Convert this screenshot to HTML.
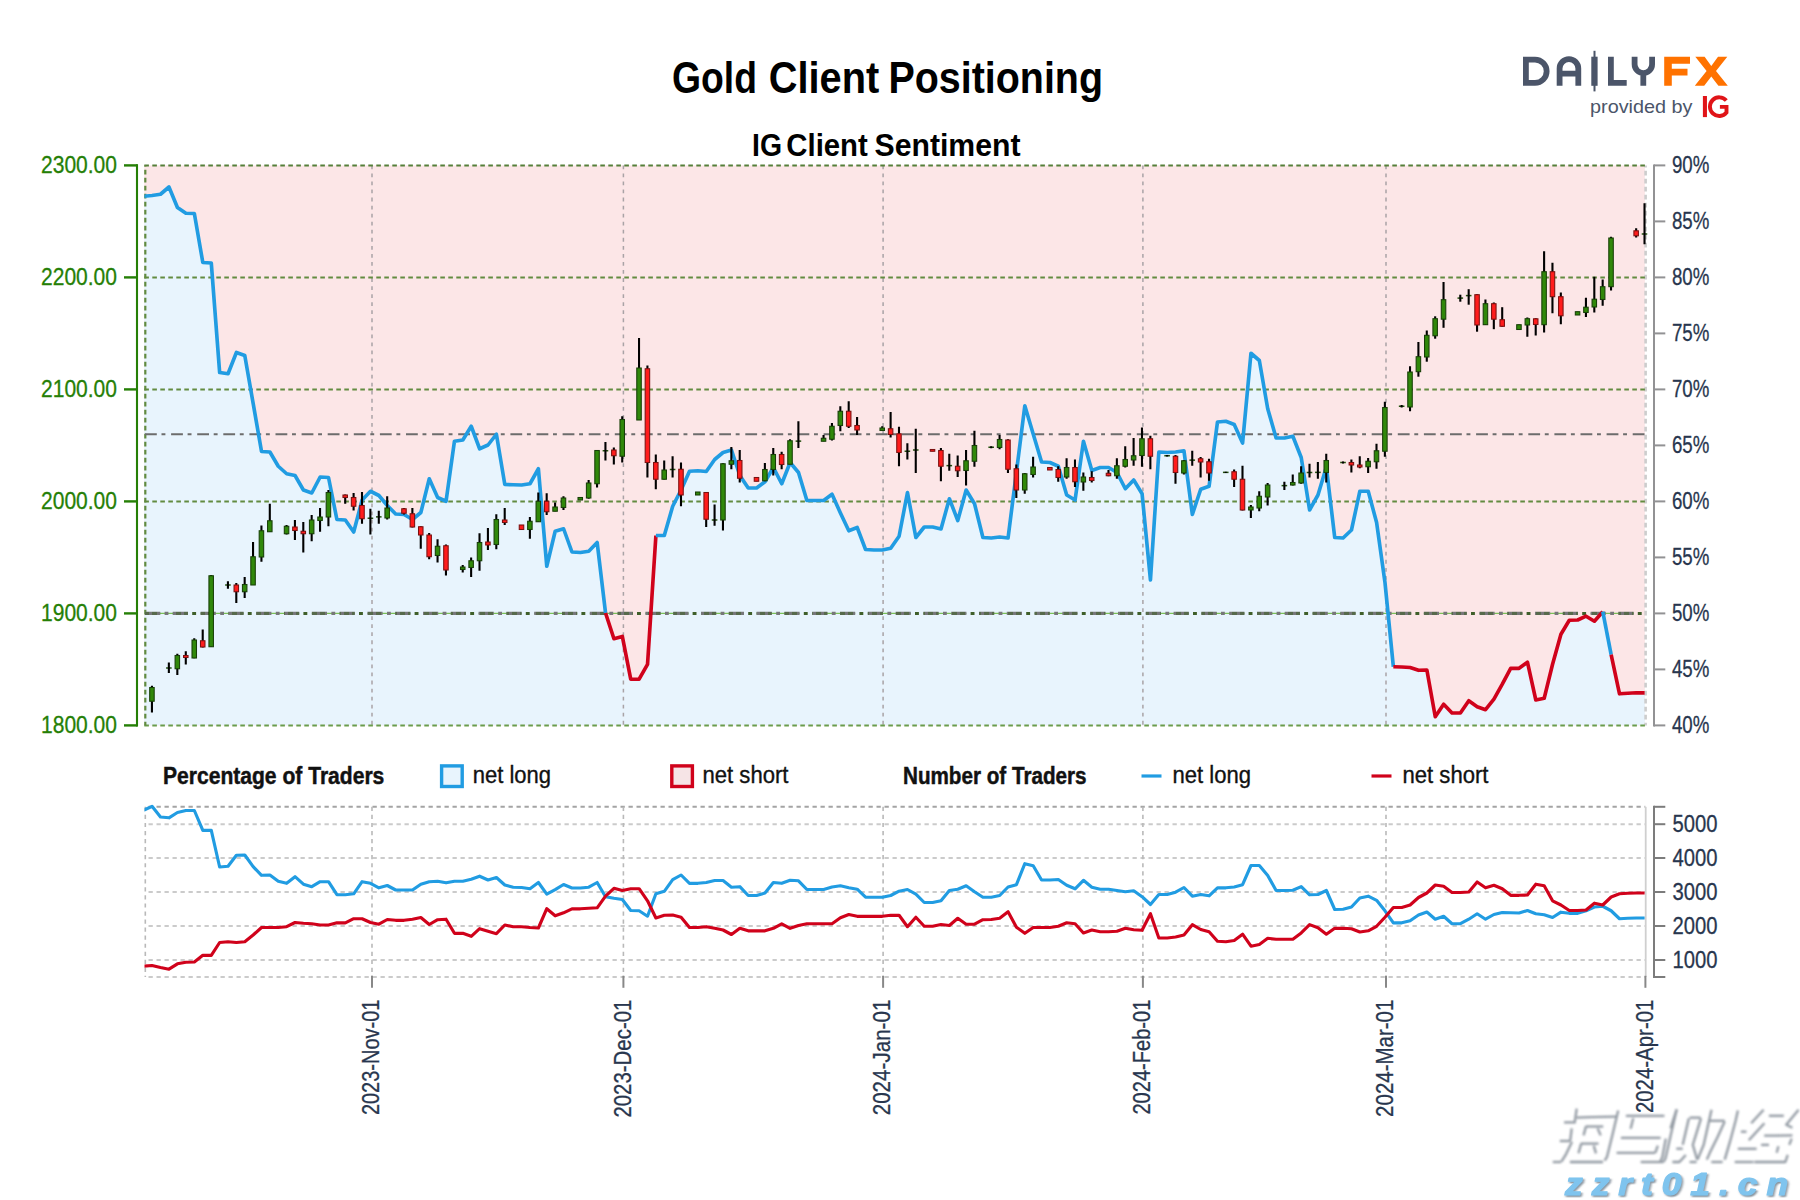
<!DOCTYPE html><html><head><meta charset="utf-8"><title>Gold Client Positioning</title>
<style>html,body{margin:0;padding:0;background:#fff}svg{display:block}text{font-family:"Liberation Sans",sans-serif}</style></head><body>
<svg width="1800" height="1200" viewBox="0 0 1800 1200">
<defs><clipPath id="cp"><rect x="144.5" y="164.9" width="1501.8" height="561"/></clipPath>
<clipPath id="cpc"><rect x="144.5" y="164.9" width="1503.3" height="561"/></clipPath>
<clipPath id="cpf"><rect x="144.2" y="165.4" width="1500.7" height="560"/></clipPath>
<clipPath id="cl"><rect x="144.5" y="803.8" width="1501.8" height="174.2"/></clipPath>
<filter id="sh" x="-10%" y="-10%" width="125%" height="130%"><feDropShadow dx="1.6" dy="1.8" stdDeviation="0.9" flood-color="#5a6470" flood-opacity="0.75"/></filter>
<filter id="sh2" x="-10%" y="-20%" width="125%" height="150%"><feDropShadow dx="1.3" dy="1.5" stdDeviation="0.7" flood-color="#6b7a88" flood-opacity="0.8"/></filter>
<filter id="bl" x="-5%" y="-5%" width="110%" height="110%"><feGaussianBlur stdDeviation="0.95"/></filter>
</defs>
<rect width="1800" height="1200" fill="#fff"/>
<text x="672" y="92.7" font-size="43.5" font-weight="bold" fill="#000" textLength="85" lengthAdjust="spacingAndGlyphs">Gold</text>
<text x="768.8" y="92.7" font-size="43.5" font-weight="bold" fill="#000" textLength="110.5" lengthAdjust="spacingAndGlyphs">Client</text>
<text x="888.5" y="92.7" font-size="43.5" font-weight="bold" fill="#000" textLength="214.5" lengthAdjust="spacingAndGlyphs">Positioning</text>
<text x="752" y="156" font-size="31.7" font-weight="bold" fill="#000" textLength="30" lengthAdjust="spacingAndGlyphs">IG</text>
<text x="786.3" y="156" font-size="31.7" font-weight="bold" fill="#000" textLength="81.5" lengthAdjust="spacingAndGlyphs">Client</text>
<text x="874.5" y="156" font-size="31.7" font-weight="bold" fill="#000" textLength="146" lengthAdjust="spacingAndGlyphs">Sentiment</text>
<rect x="144.2" y="165.4" width="1500.7" height="560" fill="#fce6e7"/>
<g clip-path="url(#cpf)">
<polygon points="144,725.4 143.6,196.25 152.03,195.5 160.5,194.25 168.96,187 177.43,207.5 185.89,213.25 194.35,213.5 202.82,262.5 211.28,263 219.65,372.5 228.03,373.75 236.4,352.5 244.78,355.5 253.15,403.4 261.53,451.5 269.9,452 278.27,466.25 286.65,473.75 295.02,475.5 303.4,490 311.77,493 320.15,477 328.52,477.5 336.91,519.5 345.31,520 353.7,532 362.1,500 370.49,491.25 378.89,495.5 387.28,505.5 395.68,514 404.07,514.5 412.47,519.5 420.86,512.5 429.26,478.75 437.65,497.5 446.05,501.25 454.44,441.25 462.83,440 471.23,426.25 479.62,448.75 488.02,445 496.41,434.25 504.81,484.5 513.2,484.75 521.6,485 529.99,483.75 538.39,468.75 546.78,566.25 555.18,531.25 563.57,528.75 571.97,552 580.36,552.5 588.75,551.25 597.15,542.5 605.54,613 613.94,638.7 622.33,636.4 630.73,679.2 639.12,679.2 647.52,664.4 655.91,535.5 664.3,535.5 672.7,506.25 681.09,490 689.49,471.25 697.88,470.75 706.28,471.5 714.67,459.5 723.06,452.5 731.45,450 739.83,475.5 748.21,488 756.59,488 764.98,481.75 773.36,467.5 781.74,483.75 790.12,462.5 798.5,472.5 806.89,500.5 815.27,500.5 823.65,500.5 832.03,494.25 840.42,513 848.8,530.75 857.18,527.5 865.56,549.5 873.95,550 882.33,550 890.71,548.25 899.09,536.25 907.47,492.5 915.86,537.5 924.24,527 932.62,527 941,529 949.38,498.75 957.77,520.5 966.15,490 974.53,503.75 982.91,537.5 991.3,538 999.68,537 1008.06,538 1016.44,472 1024.83,405.75 1033.2,434 1041.58,462 1049.95,462.5 1058.33,466.25 1066.7,495 1075.08,500 1083.45,441.25 1091.83,470.5 1100.21,467.5 1108.58,467.5 1116.96,472.5 1125.33,488.75 1133.71,480 1142.08,493.75 1150.46,580 1158.84,452 1167.21,452.5 1175.59,452 1183.96,450.75 1192.34,514.5 1200.71,489.25 1209.09,486.25 1217.47,422 1225.84,421.25 1234.22,424.5 1242.59,443 1250.97,353.25 1259.34,360.5 1267.72,408.75 1276.1,438 1284.47,438 1292.85,436.25 1301.22,457.5 1309.6,510 1317.97,495 1326.35,467 1334.73,537.5 1343.1,538 1351.48,530 1359.85,491.25 1368.23,491.25 1376.6,522.5 1384.98,582.5 1393.36,666.7 1401.74,667 1410.12,667.5 1418.5,670.3 1426.88,670 1435.26,716.7 1443.64,704.2 1452.02,713 1460.4,713 1468.78,700.8 1477.16,706.7 1485.54,709.7 1493.92,699.2 1502.3,684.2 1510.68,668.3 1519.06,668.3 1527.44,662.2 1535.82,700 1544.2,698.3 1552.56,664.2 1560.93,634.2 1569.3,620.3 1577.67,620 1586.04,616.2 1594.4,621.2 1602.77,611.7 1611.14,654.7 1619.51,693.8 1627.88,693.3 1636.25,692.8 1644.62,692.8 1646.3,725.4" fill="#e8f4fd"/>
</g>
<line x1="372" y1="165.4" x2="372" y2="725.4" stroke="#a9a3a6" stroke-width="1.5" stroke-dasharray="3.8 4.25"/>
<line x1="623.4" y1="165.4" x2="623.4" y2="725.4" stroke="#a9a3a6" stroke-width="1.5" stroke-dasharray="3.8 4.25"/>
<line x1="883.1" y1="165.4" x2="883.1" y2="725.4" stroke="#a9a3a6" stroke-width="1.5" stroke-dasharray="3.8 4.25"/>
<line x1="1142.9" y1="165.4" x2="1142.9" y2="725.4" stroke="#a9a3a6" stroke-width="1.5" stroke-dasharray="3.8 4.25"/>
<line x1="1386" y1="165.4" x2="1386" y2="725.4" stroke="#a9a3a6" stroke-width="1.5" stroke-dasharray="3.8 4.25"/>
<line x1="1645.6" y1="165.4" x2="1645.6" y2="725.4" stroke="#cdcdcd" stroke-width="2.6" stroke-dasharray="4.7 3.3" stroke-dashoffset="2.7"/>
<line x1="144.3" y1="165.4" x2="1645.3" y2="165.4" stroke="#557f39" stroke-width="2" stroke-dasharray="4.6 3.4"/>
<line x1="144.3" y1="277.4" x2="1645.3" y2="277.4" stroke="#628b40" stroke-width="2" stroke-dasharray="4.6 3.4"/>
<line x1="144.3" y1="389.4" x2="1645.3" y2="389.4" stroke="#628b40" stroke-width="2" stroke-dasharray="4.6 3.4"/>
<line x1="144.3" y1="501.4" x2="1645.3" y2="501.4" stroke="#628b40" stroke-width="2" stroke-dasharray="4.6 3.4"/>
<line x1="144.3" y1="725.4" x2="1645.3" y2="725.4" stroke="#6a9c4c" stroke-width="2" stroke-dasharray="4.6 3.4"/>
<line x1="145.3" y1="165.4" x2="145.3" y2="725.4" stroke="#628b40" stroke-width="2.2" stroke-dasharray="4.7 3.3" stroke-dashoffset="3.6"/>
<line x1="145" y1="434.2" x2="1645.3" y2="434.2" stroke="#6c6c6c" stroke-width="1.9" stroke-dasharray="11.8 4.7 3.9 5.7"/>
<mask id="m50" maskUnits="userSpaceOnUse" x="140" y="600" width="1520" height="30"><line x1="145" y1="613.4" x2="1645.3" y2="613.4" stroke="#fff" stroke-width="3.2" stroke-dasharray="15.2 12.6 15.2 12.6"/></mask>
<line x1="145" y1="613.4" x2="1645.3" y2="613.4" stroke="#7cc05a" stroke-width="1.3" stroke-dasharray="43 12.6"/>
<line x1="145" y1="613.4" x2="1645.3" y2="613.4" stroke="#3f5f2a" stroke-width="3" stroke-dasharray="3.9 51.7" stroke-dashoffset="-47.2"/>
<line x1="145" y1="613.4" x2="1645.3" y2="613.4" stroke="#77777a" stroke-width="3.1" stroke-dasharray="15.2 4.4 3.8 4.4 15.2 12.6"/>
<line x1="144" y1="613.4" x2="1645.3" y2="613.4" stroke="#43622f" stroke-width="3.1" stroke-dasharray="5 3" mask="url(#m50)" opacity="0.6"/>
<g clip-path="url(#cp)" fill="none" stroke-width="3.65" stroke-linejoin="round" stroke-linecap="butt">
<polyline points="143.6,196.25 152.03,195.5 160.5,194.25 168.96,187 177.43,207.5 185.89,213.25 194.35,213.5 202.82,262.5 211.28,263 219.65,372.5 228.03,373.75 236.4,352.5 244.78,355.5 253.15,403.4 261.53,451.5 269.9,452 278.27,466.25 286.65,473.75 295.02,475.5 303.4,490 311.77,493 320.15,477 328.52,477.5 336.91,519.5 345.31,520 353.7,532 362.1,500 370.49,491.25 378.89,495.5 387.28,505.5 395.68,514 404.07,514.5 412.47,519.5 420.86,512.5 429.26,478.75 437.65,497.5 446.05,501.25 454.44,441.25 462.83,440 471.23,426.25 479.62,448.75 488.02,445 496.41,434.25 504.81,484.5 513.2,484.75 521.6,485 529.99,483.75 538.39,468.75 546.78,566.25 555.18,531.25 563.57,528.75 571.97,552 580.36,552.5 588.75,551.25 597.15,542.5 605.54,613" stroke="#219ce2"/>
<polyline points="605.54,613 613.94,638.7 622.33,636.4 630.73,679.2 639.12,679.2 647.52,664.4 655.91,535.5" stroke="#d0021b"/>
<polyline points="655.91,535.5 664.3,535.5 672.7,506.25 681.09,490 689.49,471.25 697.88,470.75 706.28,471.5 714.67,459.5 723.06,452.5 731.45,450 739.83,475.5 748.21,488 756.59,488 764.98,481.75 773.36,467.5 781.74,483.75 790.12,462.5 798.5,472.5 806.89,500.5 815.27,500.5 823.65,500.5 832.03,494.25 840.42,513 848.8,530.75 857.18,527.5 865.56,549.5 873.95,550 882.33,550 890.71,548.25 899.09,536.25 907.47,492.5 915.86,537.5 924.24,527 932.62,527 941,529 949.38,498.75 957.77,520.5 966.15,490 974.53,503.75 982.91,537.5 991.3,538 999.68,537 1008.06,538 1016.44,472 1024.83,405.75 1033.2,434 1041.58,462 1049.95,462.5 1058.33,466.25 1066.7,495 1075.08,500 1083.45,441.25 1091.83,470.5 1100.21,467.5 1108.58,467.5 1116.96,472.5 1125.33,488.75 1133.71,480 1142.08,493.75 1150.46,580 1158.84,452 1167.21,452.5 1175.59,452 1183.96,450.75 1192.34,514.5 1200.71,489.25 1209.09,486.25 1217.47,422 1225.84,421.25 1234.22,424.5 1242.59,443 1250.97,353.25 1259.34,360.5 1267.72,408.75 1276.1,438 1284.47,438 1292.85,436.25 1301.22,457.5 1309.6,510 1317.97,495 1326.35,467 1334.73,537.5 1343.1,538 1351.48,530 1359.85,491.25 1368.23,491.25 1376.6,522.5 1384.98,582.5 1393.36,666.7" stroke="#219ce2"/>
<polyline points="1393.36,666.7 1401.74,667 1410.12,667.5 1418.5,670.3 1426.88,670 1435.26,716.7 1443.64,704.2 1452.02,713 1460.4,713 1468.78,700.8 1477.16,706.7 1485.54,709.7 1493.92,699.2 1502.3,684.2 1510.68,668.3 1519.06,668.3 1527.44,662.2 1535.82,700 1544.2,698.3 1552.56,664.2 1560.93,634.2 1569.3,620.3 1577.67,620 1586.04,616.2 1594.4,621.2 1602.77,611.7" stroke="#d0021b"/>
<polyline points="1602.77,611.7 1611.14,654.7" stroke="#219ce2"/>
<polyline points="1611.14,654.7 1619.51,693.8 1627.88,693.3 1636.25,692.8 1644.62,692.8" stroke="#d0021b"/>
</g>
<g clip-path="url(#cpc)">
<line x1="151.94" y1="685.75" x2="151.94" y2="712.5" stroke="#000" stroke-width="2.1"/>
<rect x="149.69" y="687.5" width="4.5" height="13.75" fill="#30880a" stroke="#173f07" stroke-width="1.05"/>
<rect x="166.06" y="667.25" width="5.6" height="1.5" fill="#23510f"/>
<line x1="168.86" y1="662.5" x2="168.86" y2="673" stroke="#000" stroke-width="2.1"/>
<line x1="177.33" y1="653.75" x2="177.33" y2="675" stroke="#000" stroke-width="2.1"/>
<rect x="175.08" y="655.5" width="4.5" height="13.25" fill="#30880a" stroke="#173f07" stroke-width="1.05"/>
<line x1="185.79" y1="651.25" x2="185.79" y2="664.5" stroke="#000" stroke-width="2.1"/>
<rect x="183.54" y="655.5" width="4.5" height="2" fill="#ff1c1c" stroke="#7a1010" stroke-width="1.05"/>
<line x1="194.25" y1="638.25" x2="194.25" y2="658.25" stroke="#000" stroke-width="2.1"/>
<rect x="192" y="640" width="4.5" height="18" fill="#30880a" stroke="#173f07" stroke-width="1.05"/>
<line x1="202.72" y1="629.5" x2="202.72" y2="647.5" stroke="#000" stroke-width="2.1"/>
<rect x="200.47" y="640.75" width="4.5" height="6.25" fill="#ff1c1c" stroke="#7a1010" stroke-width="1.05"/>
<line x1="211.18" y1="575" x2="211.18" y2="646.75" stroke="#000" stroke-width="2.1"/>
<rect x="208.93" y="575.75" width="4.5" height="71" fill="#30880a" stroke="#173f07" stroke-width="1.05"/>
<rect x="225.13" y="584.25" width="5.6" height="1.5" fill="#23510f"/>
<line x1="227.93" y1="581.25" x2="227.93" y2="588.75" stroke="#000" stroke-width="2.1"/>
<line x1="236.3" y1="583" x2="236.3" y2="603" stroke="#000" stroke-width="2.1"/>
<rect x="234.05" y="585" width="4.5" height="6.75" fill="#ff1c1c" stroke="#7a1010" stroke-width="1.05"/>
<line x1="244.68" y1="577" x2="244.68" y2="598" stroke="#000" stroke-width="2.1"/>
<rect x="242.43" y="584.5" width="4.5" height="7.25" fill="#30880a" stroke="#173f07" stroke-width="1.05"/>
<line x1="253.05" y1="542" x2="253.05" y2="585" stroke="#000" stroke-width="2.1"/>
<rect x="250.8" y="556.75" width="4.5" height="28.25" fill="#30880a" stroke="#173f07" stroke-width="1.05"/>
<line x1="261.43" y1="525.5" x2="261.43" y2="561.75" stroke="#000" stroke-width="2.1"/>
<rect x="259.18" y="530.75" width="4.5" height="26.25" fill="#30880a" stroke="#173f07" stroke-width="1.05"/>
<line x1="269.8" y1="503.75" x2="269.8" y2="531.75" stroke="#000" stroke-width="2.1"/>
<rect x="267.55" y="520.75" width="4.5" height="11" fill="#30880a" stroke="#173f07" stroke-width="1.05"/>
<line x1="286.55" y1="525" x2="286.55" y2="534.5" stroke="#000" stroke-width="2.1"/>
<rect x="284.3" y="526.25" width="4.5" height="7.5" fill="#30880a" stroke="#173f07" stroke-width="1.05"/>
<line x1="294.92" y1="520" x2="294.92" y2="540" stroke="#000" stroke-width="2.1"/>
<rect x="292.67" y="527" width="4.5" height="3.5" fill="#ff1c1c" stroke="#7a1010" stroke-width="1.05"/>
<line x1="303.3" y1="522" x2="303.3" y2="552.5" stroke="#000" stroke-width="2.1"/>
<rect x="301.05" y="531.25" width="4.5" height="2.5" fill="#ff1c1c" stroke="#7a1010" stroke-width="1.05"/>
<line x1="311.67" y1="515" x2="311.67" y2="541.25" stroke="#000" stroke-width="2.1"/>
<rect x="309.42" y="520" width="4.5" height="13.75" fill="#30880a" stroke="#173f07" stroke-width="1.05"/>
<line x1="320.05" y1="508" x2="320.05" y2="531.75" stroke="#000" stroke-width="2.1"/>
<rect x="317.8" y="517" width="4.5" height="3.5" fill="#30880a" stroke="#173f07" stroke-width="1.05"/>
<line x1="328.42" y1="490" x2="328.42" y2="526.25" stroke="#000" stroke-width="2.1"/>
<rect x="326.17" y="492.5" width="4.5" height="24.5" fill="#30880a" stroke="#173f07" stroke-width="1.05"/>
<line x1="345.21" y1="494.5" x2="345.21" y2="503.75" stroke="#000" stroke-width="2.1"/>
<rect x="342.96" y="495" width="4.5" height="2.5" fill="#ff1c1c" stroke="#7a1010" stroke-width="1.05"/>
<line x1="353.6" y1="493" x2="353.6" y2="510.5" stroke="#000" stroke-width="2.1"/>
<rect x="351.35" y="497.5" width="4.5" height="8.75" fill="#ff1c1c" stroke="#7a1010" stroke-width="1.05"/>
<line x1="362" y1="492" x2="362" y2="523.75" stroke="#000" stroke-width="2.1"/>
<rect x="359.75" y="505.5" width="4.5" height="13.25" fill="#ff1c1c" stroke="#7a1010" stroke-width="1.05"/>
<rect x="367.59" y="517.5" width="5.6" height="1.5" fill="#23510f"/>
<line x1="370.39" y1="508.75" x2="370.39" y2="534.5" stroke="#000" stroke-width="2.1"/>
<rect x="375.99" y="516.12" width="5.6" height="1.5" fill="#23510f"/>
<line x1="378.79" y1="510.75" x2="378.79" y2="523.75" stroke="#000" stroke-width="2.1"/>
<line x1="387.18" y1="496.25" x2="387.18" y2="519.5" stroke="#000" stroke-width="2.1"/>
<rect x="384.93" y="508" width="4.5" height="10" fill="#30880a" stroke="#173f07" stroke-width="1.05"/>
<line x1="403.97" y1="508" x2="403.97" y2="514.5" stroke="#000" stroke-width="2.1"/>
<rect x="401.72" y="508.75" width="4.5" height="4.5" fill="#ff1c1c" stroke="#7a1010" stroke-width="1.05"/>
<line x1="412.37" y1="508" x2="412.37" y2="527.5" stroke="#000" stroke-width="2.1"/>
<rect x="410.12" y="513.75" width="4.5" height="13.25" fill="#ff1c1c" stroke="#7a1010" stroke-width="1.05"/>
<line x1="420.76" y1="526.25" x2="420.76" y2="548.75" stroke="#000" stroke-width="2.1"/>
<rect x="418.51" y="526.75" width="4.5" height="8.25" fill="#ff1c1c" stroke="#7a1010" stroke-width="1.05"/>
<line x1="429.16" y1="533" x2="429.16" y2="559.25" stroke="#000" stroke-width="2.1"/>
<rect x="426.91" y="535" width="4.5" height="21.75" fill="#ff1c1c" stroke="#7a1010" stroke-width="1.05"/>
<line x1="437.55" y1="539.25" x2="437.55" y2="562.5" stroke="#000" stroke-width="2.1"/>
<rect x="435.3" y="546.25" width="4.5" height="9.25" fill="#30880a" stroke="#173f07" stroke-width="1.05"/>
<line x1="445.95" y1="544.5" x2="445.95" y2="575.5" stroke="#000" stroke-width="2.1"/>
<rect x="443.7" y="545.75" width="4.5" height="24.25" fill="#ff1c1c" stroke="#7a1010" stroke-width="1.05"/>
<line x1="462.73" y1="565" x2="462.73" y2="572.5" stroke="#000" stroke-width="2.1"/>
<rect x="460.48" y="567" width="4.5" height="2.5" fill="#30880a" stroke="#173f07" stroke-width="1.05"/>
<line x1="471.13" y1="557.5" x2="471.13" y2="577" stroke="#000" stroke-width="2.1"/>
<rect x="468.88" y="560.75" width="4.5" height="6.75" fill="#30880a" stroke="#173f07" stroke-width="1.05"/>
<line x1="479.52" y1="533.25" x2="479.52" y2="570.75" stroke="#000" stroke-width="2.1"/>
<rect x="477.27" y="542.5" width="4.5" height="18.25" fill="#30880a" stroke="#173f07" stroke-width="1.05"/>
<line x1="487.92" y1="528" x2="487.92" y2="550" stroke="#000" stroke-width="2.1"/>
<rect x="485.67" y="542" width="4.5" height="3" fill="#ff1c1c" stroke="#7a1010" stroke-width="1.05"/>
<line x1="496.31" y1="514.25" x2="496.31" y2="549.25" stroke="#000" stroke-width="2.1"/>
<rect x="494.06" y="519.5" width="4.5" height="25" fill="#30880a" stroke="#173f07" stroke-width="1.05"/>
<line x1="504.71" y1="508" x2="504.71" y2="525" stroke="#000" stroke-width="2.1"/>
<rect x="502.46" y="520" width="4.5" height="2.5" fill="#ff1c1c" stroke="#7a1010" stroke-width="1.05"/>
<line x1="521.5" y1="525" x2="521.5" y2="529.5" stroke="#000" stroke-width="2.1"/>
<rect x="519.25" y="525" width="4.5" height="4.5" fill="#ff1c1c" stroke="#7a1010" stroke-width="1.05"/>
<line x1="529.89" y1="517" x2="529.89" y2="538.75" stroke="#000" stroke-width="2.1"/>
<rect x="527.64" y="521.25" width="4.5" height="8.25" fill="#30880a" stroke="#173f07" stroke-width="1.05"/>
<line x1="538.29" y1="492.5" x2="538.29" y2="522" stroke="#000" stroke-width="2.1"/>
<rect x="536.04" y="501.25" width="4.5" height="20.5" fill="#30880a" stroke="#173f07" stroke-width="1.05"/>
<line x1="546.68" y1="493.25" x2="546.68" y2="515" stroke="#000" stroke-width="2.1"/>
<rect x="544.43" y="501.25" width="4.5" height="10.5" fill="#ff1c1c" stroke="#7a1010" stroke-width="1.05"/>
<line x1="555.08" y1="502.5" x2="555.08" y2="511.25" stroke="#000" stroke-width="2.1"/>
<rect x="552.83" y="507" width="4.5" height="4.25" fill="#30880a" stroke="#173f07" stroke-width="1.05"/>
<line x1="563.47" y1="496.25" x2="563.47" y2="510" stroke="#000" stroke-width="2.1"/>
<rect x="561.22" y="498" width="4.5" height="9.5" fill="#30880a" stroke="#173f07" stroke-width="1.05"/>
<line x1="580.26" y1="497.5" x2="580.26" y2="500" stroke="#000" stroke-width="2.1"/>
<rect x="578.01" y="497.5" width="4.5" height="2.5" fill="#30880a" stroke="#173f07" stroke-width="1.05"/>
<line x1="588.65" y1="480" x2="588.65" y2="498.75" stroke="#000" stroke-width="2.1"/>
<rect x="586.4" y="483" width="4.5" height="15" fill="#30880a" stroke="#173f07" stroke-width="1.05"/>
<line x1="597.05" y1="450" x2="597.05" y2="487.5" stroke="#000" stroke-width="2.1"/>
<rect x="594.8" y="450.5" width="4.5" height="33.25" fill="#30880a" stroke="#173f07" stroke-width="1.05"/>
<rect x="602.64" y="450" width="5.6" height="1.5" fill="#23510f"/>
<line x1="605.44" y1="442" x2="605.44" y2="460.5" stroke="#000" stroke-width="2.1"/>
<line x1="613.84" y1="447.5" x2="613.84" y2="464.5" stroke="#000" stroke-width="2.1"/>
<rect x="611.59" y="450" width="4.5" height="5.75" fill="#ff1c1c" stroke="#7a1010" stroke-width="1.05"/>
<line x1="622.23" y1="416.25" x2="622.23" y2="462.5" stroke="#000" stroke-width="2.1"/>
<rect x="619.98" y="419.5" width="4.5" height="36.75" fill="#30880a" stroke="#173f07" stroke-width="1.05"/>
<line x1="639.02" y1="338" x2="639.02" y2="420" stroke="#000" stroke-width="2.1"/>
<rect x="636.77" y="368" width="4.5" height="52" fill="#30880a" stroke="#173f07" stroke-width="1.05"/>
<line x1="647.42" y1="365.5" x2="647.42" y2="477.5" stroke="#000" stroke-width="2.1"/>
<rect x="645.17" y="368.75" width="4.5" height="93.75" fill="#ff1c1c" stroke="#7a1010" stroke-width="1.05"/>
<line x1="655.81" y1="454.5" x2="655.81" y2="489.25" stroke="#000" stroke-width="2.1"/>
<rect x="653.56" y="462.5" width="4.5" height="16.75" fill="#ff1c1c" stroke="#7a1010" stroke-width="1.05"/>
<line x1="664.2" y1="460.5" x2="664.2" y2="479.5" stroke="#000" stroke-width="2.1"/>
<rect x="661.95" y="470" width="4.5" height="9.25" fill="#30880a" stroke="#173f07" stroke-width="1.05"/>
<rect x="669.8" y="468.75" width="5.6" height="1.5" fill="#23510f"/>
<line x1="672.6" y1="456.25" x2="672.6" y2="477.5" stroke="#000" stroke-width="2.1"/>
<line x1="680.99" y1="462.5" x2="680.99" y2="506.25" stroke="#000" stroke-width="2.1"/>
<rect x="678.74" y="469.25" width="4.5" height="25.75" fill="#ff1c1c" stroke="#7a1010" stroke-width="1.05"/>
<line x1="697.78" y1="492" x2="697.78" y2="495" stroke="#000" stroke-width="2.1"/>
<rect x="695.53" y="492" width="4.5" height="3" fill="#30880a" stroke="#173f07" stroke-width="1.05"/>
<line x1="706.18" y1="492" x2="706.18" y2="527" stroke="#000" stroke-width="2.1"/>
<rect x="703.93" y="492.5" width="4.5" height="26.75" fill="#ff1c1c" stroke="#7a1010" stroke-width="1.05"/>
<rect x="711.77" y="519.25" width="5.6" height="1.5" fill="#23510f"/>
<line x1="714.57" y1="504.5" x2="714.57" y2="525.75" stroke="#000" stroke-width="2.1"/>
<line x1="722.96" y1="463.25" x2="722.96" y2="530.5" stroke="#000" stroke-width="2.1"/>
<rect x="720.71" y="463.75" width="4.5" height="56.25" fill="#30880a" stroke="#173f07" stroke-width="1.05"/>
<line x1="731.35" y1="447" x2="731.35" y2="469.25" stroke="#000" stroke-width="2.1"/>
<rect x="729.1" y="460.75" width="4.5" height="3.5" fill="#30880a" stroke="#173f07" stroke-width="1.05"/>
<line x1="739.73" y1="450" x2="739.73" y2="482.5" stroke="#000" stroke-width="2.1"/>
<rect x="737.48" y="460.5" width="4.5" height="17.75" fill="#ff1c1c" stroke="#7a1010" stroke-width="1.05"/>
<line x1="756.49" y1="477.5" x2="756.49" y2="481.25" stroke="#000" stroke-width="2.1"/>
<rect x="754.24" y="477.5" width="4.5" height="3.75" fill="#ff1c1c" stroke="#7a1010" stroke-width="1.05"/>
<line x1="764.88" y1="463" x2="764.88" y2="481.25" stroke="#000" stroke-width="2.1"/>
<rect x="762.63" y="469.5" width="4.5" height="11.25" fill="#30880a" stroke="#173f07" stroke-width="1.05"/>
<line x1="773.26" y1="448" x2="773.26" y2="475.5" stroke="#000" stroke-width="2.1"/>
<rect x="771.01" y="454.5" width="4.5" height="15" fill="#30880a" stroke="#173f07" stroke-width="1.05"/>
<line x1="781.64" y1="451.75" x2="781.64" y2="469.25" stroke="#000" stroke-width="2.1"/>
<rect x="779.39" y="454.5" width="4.5" height="10" fill="#ff1c1c" stroke="#7a1010" stroke-width="1.05"/>
<line x1="790.02" y1="439.25" x2="790.02" y2="464.25" stroke="#000" stroke-width="2.1"/>
<rect x="787.77" y="440.75" width="4.5" height="23.5" fill="#30880a" stroke="#173f07" stroke-width="1.05"/>
<rect x="795.61" y="440.38" width="5.6" height="1.5" fill="#23510f"/>
<line x1="798.4" y1="421.25" x2="798.4" y2="448" stroke="#000" stroke-width="2.1"/>
<line x1="823.55" y1="435" x2="823.55" y2="441.25" stroke="#000" stroke-width="2.1"/>
<rect x="821.3" y="438.25" width="4.5" height="3" fill="#30880a" stroke="#173f07" stroke-width="1.05"/>
<line x1="831.93" y1="423" x2="831.93" y2="440.5" stroke="#000" stroke-width="2.1"/>
<rect x="829.68" y="426.25" width="4.5" height="13" fill="#30880a" stroke="#173f07" stroke-width="1.05"/>
<line x1="840.32" y1="406.25" x2="840.32" y2="431.25" stroke="#000" stroke-width="2.1"/>
<rect x="838.07" y="411.25" width="4.5" height="14.25" fill="#30880a" stroke="#173f07" stroke-width="1.05"/>
<line x1="848.7" y1="401.25" x2="848.7" y2="428" stroke="#000" stroke-width="2.1"/>
<rect x="846.45" y="411.25" width="4.5" height="15" fill="#ff1c1c" stroke="#7a1010" stroke-width="1.05"/>
<line x1="857.08" y1="417" x2="857.08" y2="435" stroke="#000" stroke-width="2.1"/>
<rect x="854.83" y="425.5" width="4.5" height="4.5" fill="#ff1c1c" stroke="#7a1010" stroke-width="1.05"/>
<line x1="882.23" y1="426.25" x2="882.23" y2="430.5" stroke="#000" stroke-width="2.1"/>
<rect x="879.98" y="428" width="4.5" height="2.5" fill="#30880a" stroke="#173f07" stroke-width="1.05"/>
<line x1="890.61" y1="412" x2="890.61" y2="437.5" stroke="#000" stroke-width="2.1"/>
<rect x="888.36" y="428.75" width="4.5" height="5.75" fill="#ff1c1c" stroke="#7a1010" stroke-width="1.05"/>
<line x1="898.99" y1="426.75" x2="898.99" y2="466.25" stroke="#000" stroke-width="2.1"/>
<rect x="896.74" y="433.75" width="4.5" height="18.75" fill="#ff1c1c" stroke="#7a1010" stroke-width="1.05"/>
<rect x="904.57" y="450.5" width="5.6" height="1.5" fill="#23510f"/>
<line x1="907.37" y1="443.25" x2="907.37" y2="459.5" stroke="#000" stroke-width="2.1"/>
<rect x="912.96" y="449.25" width="5.6" height="1.5" fill="#23510f"/>
<line x1="915.76" y1="428.75" x2="915.76" y2="473" stroke="#000" stroke-width="2.1"/>
<line x1="932.52" y1="449.5" x2="932.52" y2="451.25" stroke="#000" stroke-width="2.1"/>
<rect x="930.27" y="449.5" width="4.5" height="1.75" fill="#ff1c1c" stroke="#7a1010" stroke-width="1.05"/>
<line x1="940.9" y1="448" x2="940.9" y2="481.25" stroke="#000" stroke-width="2.1"/>
<rect x="938.65" y="450.5" width="4.5" height="15.75" fill="#ff1c1c" stroke="#7a1010" stroke-width="1.05"/>
<rect x="946.49" y="464.88" width="5.6" height="1.5" fill="#23510f"/>
<line x1="949.28" y1="453.75" x2="949.28" y2="470.75" stroke="#000" stroke-width="2.1"/>
<line x1="957.67" y1="455.5" x2="957.67" y2="477" stroke="#000" stroke-width="2.1"/>
<rect x="955.42" y="466.25" width="4.5" height="4.5" fill="#ff1c1c" stroke="#7a1010" stroke-width="1.05"/>
<line x1="966.05" y1="450" x2="966.05" y2="485.5" stroke="#000" stroke-width="2.1"/>
<rect x="963.8" y="460.75" width="4.5" height="9.75" fill="#30880a" stroke="#173f07" stroke-width="1.05"/>
<line x1="974.43" y1="430.75" x2="974.43" y2="466.75" stroke="#000" stroke-width="2.1"/>
<rect x="972.18" y="445.5" width="4.5" height="15.75" fill="#30880a" stroke="#173f07" stroke-width="1.05"/>
<rect x="988.4" y="446.5" width="5.6" height="1.5" fill="#23510f"/>
<line x1="991.2" y1="446.25" x2="991.2" y2="448.25" stroke="#000" stroke-width="2.1"/>
<line x1="999.58" y1="435" x2="999.58" y2="449.25" stroke="#000" stroke-width="2.1"/>
<rect x="997.33" y="439.5" width="4.5" height="8" fill="#30880a" stroke="#173f07" stroke-width="1.05"/>
<line x1="1007.96" y1="439.25" x2="1007.96" y2="473" stroke="#000" stroke-width="2.1"/>
<rect x="1005.71" y="440" width="4.5" height="29.25" fill="#ff1c1c" stroke="#7a1010" stroke-width="1.05"/>
<line x1="1016.34" y1="464.5" x2="1016.34" y2="498" stroke="#000" stroke-width="2.1"/>
<rect x="1014.09" y="468.75" width="4.5" height="21.25" fill="#ff1c1c" stroke="#7a1010" stroke-width="1.05"/>
<line x1="1024.73" y1="473" x2="1024.73" y2="493.75" stroke="#000" stroke-width="2.1"/>
<rect x="1022.48" y="473.75" width="4.5" height="16.25" fill="#30880a" stroke="#173f07" stroke-width="1.05"/>
<line x1="1033.1" y1="456.75" x2="1033.1" y2="477.5" stroke="#000" stroke-width="2.1"/>
<rect x="1030.85" y="467" width="4.5" height="7.5" fill="#30880a" stroke="#173f07" stroke-width="1.05"/>
<line x1="1049.85" y1="467.5" x2="1049.85" y2="470" stroke="#000" stroke-width="2.1"/>
<rect x="1047.6" y="467.5" width="4.5" height="2.5" fill="#ff1c1c" stroke="#7a1010" stroke-width="1.05"/>
<line x1="1058.23" y1="466.25" x2="1058.23" y2="481.75" stroke="#000" stroke-width="2.1"/>
<rect x="1055.98" y="469.5" width="4.5" height="8" fill="#ff1c1c" stroke="#7a1010" stroke-width="1.05"/>
<line x1="1066.6" y1="458.25" x2="1066.6" y2="478.75" stroke="#000" stroke-width="2.1"/>
<rect x="1064.35" y="467.5" width="4.5" height="9.5" fill="#30880a" stroke="#173f07" stroke-width="1.05"/>
<line x1="1074.98" y1="459.5" x2="1074.98" y2="487" stroke="#000" stroke-width="2.1"/>
<rect x="1072.73" y="467.5" width="4.5" height="14.25" fill="#ff1c1c" stroke="#7a1010" stroke-width="1.05"/>
<line x1="1083.35" y1="472.5" x2="1083.35" y2="490.75" stroke="#000" stroke-width="2.1"/>
<rect x="1081.1" y="477" width="4.5" height="5" fill="#30880a" stroke="#173f07" stroke-width="1.05"/>
<line x1="1091.73" y1="471.25" x2="1091.73" y2="482.5" stroke="#000" stroke-width="2.1"/>
<rect x="1089.48" y="477.5" width="4.5" height="3" fill="#ff1c1c" stroke="#7a1010" stroke-width="1.05"/>
<line x1="1108.48" y1="470" x2="1108.48" y2="476.25" stroke="#000" stroke-width="2.1"/>
<rect x="1106.23" y="473.25" width="4.5" height="2.5" fill="#ff1c1c" stroke="#7a1010" stroke-width="1.05"/>
<line x1="1116.86" y1="458.25" x2="1116.86" y2="478.75" stroke="#000" stroke-width="2.1"/>
<rect x="1114.61" y="465.75" width="4.5" height="10" fill="#30880a" stroke="#173f07" stroke-width="1.05"/>
<line x1="1125.23" y1="446.25" x2="1125.23" y2="467.5" stroke="#000" stroke-width="2.1"/>
<rect x="1122.98" y="459.5" width="4.5" height="6.75" fill="#30880a" stroke="#173f07" stroke-width="1.05"/>
<line x1="1133.61" y1="438" x2="1133.61" y2="465.75" stroke="#000" stroke-width="2.1"/>
<rect x="1131.36" y="455.75" width="4.5" height="4.25" fill="#30880a" stroke="#173f07" stroke-width="1.05"/>
<line x1="1141.98" y1="427.5" x2="1141.98" y2="466.75" stroke="#000" stroke-width="2.1"/>
<rect x="1139.73" y="438.75" width="4.5" height="16.75" fill="#30880a" stroke="#173f07" stroke-width="1.05"/>
<line x1="1150.36" y1="435.75" x2="1150.36" y2="469.25" stroke="#000" stroke-width="2.1"/>
<rect x="1148.11" y="438.75" width="4.5" height="17.5" fill="#ff1c1c" stroke="#7a1010" stroke-width="1.05"/>
<rect x="1164.31" y="455" width="5.6" height="1.5" fill="#23510f"/>
<line x1="1167.11" y1="455" x2="1167.11" y2="456.5" stroke="#000" stroke-width="2.1"/>
<line x1="1175.49" y1="455" x2="1175.49" y2="483.75" stroke="#000" stroke-width="2.1"/>
<rect x="1173.24" y="456.25" width="4.5" height="16.25" fill="#ff1c1c" stroke="#7a1010" stroke-width="1.05"/>
<line x1="1183.86" y1="460" x2="1183.86" y2="474.5" stroke="#000" stroke-width="2.1"/>
<rect x="1181.61" y="460.75" width="4.5" height="12.25" fill="#30880a" stroke="#173f07" stroke-width="1.05"/>
<rect x="1189.44" y="459.38" width="5.6" height="1.5" fill="#23510f"/>
<line x1="1192.24" y1="450.75" x2="1192.24" y2="465.75" stroke="#000" stroke-width="2.1"/>
<line x1="1200.61" y1="457" x2="1200.61" y2="477.5" stroke="#000" stroke-width="2.1"/>
<rect x="1198.36" y="458.75" width="4.5" height="3.25" fill="#ff1c1c" stroke="#7a1010" stroke-width="1.05"/>
<line x1="1208.99" y1="458.75" x2="1208.99" y2="480.75" stroke="#000" stroke-width="2.1"/>
<rect x="1206.74" y="461.75" width="4.5" height="11.25" fill="#ff1c1c" stroke="#7a1010" stroke-width="1.05"/>
<rect x="1222.94" y="471.62" width="5.6" height="1.5" fill="#23510f"/>
<line x1="1225.74" y1="471.75" x2="1225.74" y2="473" stroke="#000" stroke-width="2.1"/>
<line x1="1234.12" y1="469.5" x2="1234.12" y2="487" stroke="#000" stroke-width="2.1"/>
<rect x="1231.87" y="471.75" width="4.5" height="7.5" fill="#ff1c1c" stroke="#7a1010" stroke-width="1.05"/>
<line x1="1242.49" y1="465.75" x2="1242.49" y2="510.5" stroke="#000" stroke-width="2.1"/>
<rect x="1240.24" y="479.25" width="4.5" height="30.75" fill="#ff1c1c" stroke="#7a1010" stroke-width="1.05"/>
<line x1="1250.87" y1="505" x2="1250.87" y2="518" stroke="#000" stroke-width="2.1"/>
<rect x="1248.62" y="507" width="4.5" height="3" fill="#30880a" stroke="#173f07" stroke-width="1.05"/>
<line x1="1259.24" y1="491.25" x2="1259.24" y2="511.25" stroke="#000" stroke-width="2.1"/>
<rect x="1256.99" y="496.25" width="4.5" height="11.75" fill="#30880a" stroke="#173f07" stroke-width="1.05"/>
<line x1="1267.62" y1="483" x2="1267.62" y2="505.5" stroke="#000" stroke-width="2.1"/>
<rect x="1265.37" y="485" width="4.5" height="12" fill="#30880a" stroke="#173f07" stroke-width="1.05"/>
<rect x="1281.57" y="484.88" width="5.6" height="1.5" fill="#23510f"/>
<line x1="1284.37" y1="481.75" x2="1284.37" y2="490" stroke="#000" stroke-width="2.1"/>
<line x1="1292.75" y1="474.5" x2="1292.75" y2="485.5" stroke="#000" stroke-width="2.1"/>
<rect x="1290.5" y="482.5" width="4.5" height="2.5" fill="#30880a" stroke="#173f07" stroke-width="1.05"/>
<line x1="1301.12" y1="466.25" x2="1301.12" y2="483.75" stroke="#000" stroke-width="2.1"/>
<rect x="1298.87" y="473" width="4.5" height="10" fill="#30880a" stroke="#173f07" stroke-width="1.05"/>
<rect x="1306.7" y="471.75" width="5.6" height="1.5" fill="#23510f"/>
<line x1="1309.5" y1="463.75" x2="1309.5" y2="477.5" stroke="#000" stroke-width="2.1"/>
<rect x="1315.07" y="471.62" width="5.6" height="1.5" fill="#23510f"/>
<line x1="1317.87" y1="462" x2="1317.87" y2="478.75" stroke="#000" stroke-width="2.1"/>
<line x1="1326.25" y1="453.75" x2="1326.25" y2="482.5" stroke="#000" stroke-width="2.1"/>
<rect x="1324" y="460.5" width="4.5" height="12" fill="#30880a" stroke="#173f07" stroke-width="1.05"/>
<rect x="1340.2" y="461.75" width="5.6" height="1.5" fill="#23510f"/>
<line x1="1343" y1="461.5" x2="1343" y2="463.5" stroke="#000" stroke-width="2.1"/>
<line x1="1351.38" y1="459.5" x2="1351.38" y2="472.5" stroke="#000" stroke-width="2.1"/>
<rect x="1349.13" y="462.5" width="4.5" height="2.5" fill="#ff1c1c" stroke="#7a1010" stroke-width="1.05"/>
<line x1="1359.75" y1="456.25" x2="1359.75" y2="468.25" stroke="#000" stroke-width="2.1"/>
<rect x="1357.5" y="465" width="4.5" height="2" fill="#ff1c1c" stroke="#7a1010" stroke-width="1.05"/>
<line x1="1368.13" y1="458" x2="1368.13" y2="473" stroke="#000" stroke-width="2.1"/>
<rect x="1365.88" y="461.25" width="4.5" height="5.5" fill="#30880a" stroke="#173f07" stroke-width="1.05"/>
<line x1="1376.5" y1="443.75" x2="1376.5" y2="468.75" stroke="#000" stroke-width="2.1"/>
<rect x="1374.25" y="450.75" width="4.5" height="11" fill="#30880a" stroke="#173f07" stroke-width="1.05"/>
<line x1="1384.88" y1="401.75" x2="1384.88" y2="456.75" stroke="#000" stroke-width="2.1"/>
<rect x="1382.63" y="407.5" width="4.5" height="43.75" fill="#30880a" stroke="#173f07" stroke-width="1.05"/>
<rect x="1398.84" y="405.5" width="5.6" height="1.5" fill="#23510f"/>
<line x1="1401.64" y1="405" x2="1401.64" y2="407.5" stroke="#000" stroke-width="2.1"/>
<line x1="1410.02" y1="366.25" x2="1410.02" y2="411.25" stroke="#000" stroke-width="2.1"/>
<rect x="1407.77" y="372" width="4.5" height="35" fill="#30880a" stroke="#173f07" stroke-width="1.05"/>
<line x1="1418.4" y1="342" x2="1418.4" y2="376.7" stroke="#000" stroke-width="2.1"/>
<rect x="1416.15" y="356.7" width="4.5" height="15" fill="#30880a" stroke="#173f07" stroke-width="1.05"/>
<line x1="1426.78" y1="330.5" x2="1426.78" y2="361.7" stroke="#000" stroke-width="2.1"/>
<rect x="1424.53" y="335.3" width="4.5" height="21.7" fill="#30880a" stroke="#173f07" stroke-width="1.05"/>
<line x1="1435.16" y1="316.3" x2="1435.16" y2="338.7" stroke="#000" stroke-width="2.1"/>
<rect x="1432.91" y="318.7" width="4.5" height="17.1" fill="#30880a" stroke="#173f07" stroke-width="1.05"/>
<line x1="1443.54" y1="282" x2="1443.54" y2="327.8" stroke="#000" stroke-width="2.1"/>
<rect x="1441.29" y="299.7" width="4.5" height="19.5" fill="#30880a" stroke="#173f07" stroke-width="1.05"/>
<rect x="1457.5" y="297.35" width="5.6" height="1.5" fill="#23510f"/>
<line x1="1460.3" y1="294.7" x2="1460.3" y2="301.7" stroke="#000" stroke-width="2.1"/>
<rect x="1465.88" y="294.85" width="5.6" height="1.5" fill="#23510f"/>
<line x1="1468.68" y1="289.2" x2="1468.68" y2="304.7" stroke="#000" stroke-width="2.1"/>
<line x1="1477.06" y1="294.2" x2="1477.06" y2="331.7" stroke="#000" stroke-width="2.1"/>
<rect x="1474.81" y="294.7" width="4.5" height="30.3" fill="#ff1c1c" stroke="#7a1010" stroke-width="1.05"/>
<line x1="1485.44" y1="299.5" x2="1485.44" y2="325" stroke="#000" stroke-width="2.1"/>
<rect x="1483.19" y="303.7" width="4.5" height="21" fill="#30880a" stroke="#173f07" stroke-width="1.05"/>
<line x1="1493.82" y1="302.5" x2="1493.82" y2="329.2" stroke="#000" stroke-width="2.1"/>
<rect x="1491.57" y="303.7" width="4.5" height="15.5" fill="#ff1c1c" stroke="#7a1010" stroke-width="1.05"/>
<line x1="1502.2" y1="307.2" x2="1502.2" y2="326.7" stroke="#000" stroke-width="2.1"/>
<rect x="1499.95" y="319.7" width="4.5" height="6.6" fill="#ff1c1c" stroke="#7a1010" stroke-width="1.05"/>
<line x1="1518.96" y1="324.7" x2="1518.96" y2="329.5" stroke="#000" stroke-width="2.1"/>
<rect x="1516.71" y="324.7" width="4.5" height="4.8" fill="#30880a" stroke="#173f07" stroke-width="1.05"/>
<line x1="1527.34" y1="317.5" x2="1527.34" y2="336.7" stroke="#000" stroke-width="2.1"/>
<rect x="1525.09" y="318.7" width="4.5" height="6.3" fill="#30880a" stroke="#173f07" stroke-width="1.05"/>
<line x1="1535.72" y1="318.3" x2="1535.72" y2="335.5" stroke="#000" stroke-width="2.1"/>
<rect x="1533.47" y="318.8" width="4.5" height="5.7" fill="#ff1c1c" stroke="#7a1010" stroke-width="1.05"/>
<line x1="1544.1" y1="251.2" x2="1544.1" y2="332.5" stroke="#000" stroke-width="2.1"/>
<rect x="1541.85" y="271.7" width="4.5" height="53" fill="#30880a" stroke="#173f07" stroke-width="1.05"/>
<line x1="1552.46" y1="262.8" x2="1552.46" y2="313.3" stroke="#000" stroke-width="2.1"/>
<rect x="1550.21" y="271.7" width="4.5" height="25" fill="#ff1c1c" stroke="#7a1010" stroke-width="1.05"/>
<line x1="1560.83" y1="292.5" x2="1560.83" y2="324.2" stroke="#000" stroke-width="2.1"/>
<rect x="1558.58" y="296.7" width="4.5" height="19.1" fill="#ff1c1c" stroke="#7a1010" stroke-width="1.05"/>
<line x1="1577.57" y1="311.7" x2="1577.57" y2="315" stroke="#000" stroke-width="2.1"/>
<rect x="1575.32" y="311.7" width="4.5" height="3.3" fill="#30880a" stroke="#173f07" stroke-width="1.05"/>
<line x1="1585.94" y1="297.8" x2="1585.94" y2="317" stroke="#000" stroke-width="2.1"/>
<rect x="1583.69" y="307.2" width="4.5" height="5.3" fill="#30880a" stroke="#173f07" stroke-width="1.05"/>
<line x1="1594.31" y1="276.7" x2="1594.31" y2="312.5" stroke="#000" stroke-width="2.1"/>
<rect x="1592.06" y="299.2" width="4.5" height="7.8" fill="#30880a" stroke="#173f07" stroke-width="1.05"/>
<line x1="1602.67" y1="279.5" x2="1602.67" y2="305.8" stroke="#000" stroke-width="2.1"/>
<rect x="1600.42" y="286.7" width="4.5" height="12.8" fill="#30880a" stroke="#173f07" stroke-width="1.05"/>
<line x1="1611.04" y1="236.7" x2="1611.04" y2="290.5" stroke="#000" stroke-width="2.1"/>
<rect x="1608.79" y="238" width="4.5" height="48.7" fill="#30880a" stroke="#173f07" stroke-width="1.05"/>
<line x1="1636.15" y1="228.3" x2="1636.15" y2="237.5" stroke="#000" stroke-width="2.1"/>
<rect x="1633.9" y="230.8" width="4.5" height="5" fill="#ff1c1c" stroke="#7a1010" stroke-width="1.05"/>
<rect x="1641.72" y="233.25" width="5.6" height="1.5" fill="#23510f"/>
<line x1="1644.52" y1="203.3" x2="1644.52" y2="244.2" stroke="#000" stroke-width="2.1"/>
</g>
<line x1="137" y1="164.2" x2="137" y2="726.6" stroke="#257f06" stroke-width="2.1"/>
<line x1="124" y1="165.4" x2="137.5" y2="165.4" stroke="#257f06" stroke-width="2.4"/>
<text x="41" y="173" font-size="24" fill="#257f06" stroke="#257f06" stroke-width="0.3" textLength="76" lengthAdjust="spacingAndGlyphs">2300.00</text>
<line x1="124" y1="277.4" x2="137.5" y2="277.4" stroke="#257f06" stroke-width="2.4"/>
<text x="41" y="285" font-size="24" fill="#257f06" stroke="#257f06" stroke-width="0.3" textLength="76" lengthAdjust="spacingAndGlyphs">2200.00</text>
<line x1="124" y1="389.4" x2="137.5" y2="389.4" stroke="#257f06" stroke-width="2.4"/>
<text x="41" y="397" font-size="24" fill="#257f06" stroke="#257f06" stroke-width="0.3" textLength="76" lengthAdjust="spacingAndGlyphs">2100.00</text>
<line x1="124" y1="501.4" x2="137.5" y2="501.4" stroke="#257f06" stroke-width="2.4"/>
<text x="41" y="509" font-size="24" fill="#257f06" stroke="#257f06" stroke-width="0.3" textLength="76" lengthAdjust="spacingAndGlyphs">2000.00</text>
<line x1="124" y1="613.4" x2="137.5" y2="613.4" stroke="#257f06" stroke-width="2.4"/>
<text x="41" y="621" font-size="24" fill="#257f06" stroke="#257f06" stroke-width="0.3" textLength="76" lengthAdjust="spacingAndGlyphs">1900.00</text>
<line x1="124" y1="725.4" x2="137.5" y2="725.4" stroke="#257f06" stroke-width="2.4"/>
<text x="41" y="733" font-size="24" fill="#257f06" stroke="#257f06" stroke-width="0.3" textLength="76" lengthAdjust="spacingAndGlyphs">1800.00</text>
<line x1="1654" y1="164.4" x2="1654" y2="726.4" stroke="#929294" stroke-width="2"/>
<line x1="1654" y1="165.4" x2="1665.3" y2="165.4" stroke="#929294" stroke-width="2"/>
<text x="1671.9" y="173.3" font-size="24" fill="#28364e" stroke="#28364e" stroke-width="0.3" textLength="37.4" lengthAdjust="spacingAndGlyphs">90%</text>
<line x1="1654" y1="221.4" x2="1665.3" y2="221.4" stroke="#929294" stroke-width="2"/>
<text x="1671.9" y="229.3" font-size="24" fill="#28364e" stroke="#28364e" stroke-width="0.3" textLength="37.4" lengthAdjust="spacingAndGlyphs">85%</text>
<line x1="1654" y1="277.4" x2="1665.3" y2="277.4" stroke="#929294" stroke-width="2"/>
<text x="1671.9" y="285.3" font-size="24" fill="#28364e" stroke="#28364e" stroke-width="0.3" textLength="37.4" lengthAdjust="spacingAndGlyphs">80%</text>
<line x1="1654" y1="333.4" x2="1665.3" y2="333.4" stroke="#929294" stroke-width="2"/>
<text x="1671.9" y="341.3" font-size="24" fill="#28364e" stroke="#28364e" stroke-width="0.3" textLength="37.4" lengthAdjust="spacingAndGlyphs">75%</text>
<line x1="1654" y1="389.4" x2="1665.3" y2="389.4" stroke="#929294" stroke-width="2"/>
<text x="1671.9" y="397.3" font-size="24" fill="#28364e" stroke="#28364e" stroke-width="0.3" textLength="37.4" lengthAdjust="spacingAndGlyphs">70%</text>
<line x1="1654" y1="445.4" x2="1665.3" y2="445.4" stroke="#929294" stroke-width="2"/>
<text x="1671.9" y="453.3" font-size="24" fill="#28364e" stroke="#28364e" stroke-width="0.3" textLength="37.4" lengthAdjust="spacingAndGlyphs">65%</text>
<line x1="1654" y1="501.4" x2="1665.3" y2="501.4" stroke="#929294" stroke-width="2"/>
<text x="1671.9" y="509.3" font-size="24" fill="#28364e" stroke="#28364e" stroke-width="0.3" textLength="37.4" lengthAdjust="spacingAndGlyphs">60%</text>
<line x1="1654" y1="557.4" x2="1665.3" y2="557.4" stroke="#929294" stroke-width="2"/>
<text x="1671.9" y="565.3" font-size="24" fill="#28364e" stroke="#28364e" stroke-width="0.3" textLength="37.4" lengthAdjust="spacingAndGlyphs">55%</text>
<line x1="1654" y1="613.4" x2="1665.3" y2="613.4" stroke="#929294" stroke-width="2"/>
<text x="1671.9" y="621.3" font-size="24" fill="#28364e" stroke="#28364e" stroke-width="0.3" textLength="37.4" lengthAdjust="spacingAndGlyphs">50%</text>
<line x1="1654" y1="669.4" x2="1665.3" y2="669.4" stroke="#929294" stroke-width="2"/>
<text x="1671.9" y="677.3" font-size="24" fill="#28364e" stroke="#28364e" stroke-width="0.3" textLength="37.4" lengthAdjust="spacingAndGlyphs">45%</text>
<line x1="1654" y1="725.4" x2="1665.3" y2="725.4" stroke="#929294" stroke-width="2"/>
<text x="1671.9" y="733.3" font-size="24" fill="#28364e" stroke="#28364e" stroke-width="0.3" textLength="37.4" lengthAdjust="spacingAndGlyphs">40%</text>
<text x="163" y="783.6" font-size="23" font-weight="bold" fill="#111" stroke="#111" stroke-width="0.45" textLength="221.3" lengthAdjust="spacingAndGlyphs">Percentage of Traders</text>
<rect x="441.6" y="765.9" width="20.6" height="20.6" fill="#e8f4fd" stroke="#219ce2" stroke-width="3.4"/>
<text x="472.7" y="783.4" font-size="23.5" fill="#111" stroke="#111" stroke-width="0.35" textLength="78.3" lengthAdjust="spacingAndGlyphs">net long</text>
<rect x="671.8" y="765.9" width="20.6" height="20.6" fill="#f6e4e6" stroke="#d0021b" stroke-width="3.4"/>
<text x="702.5" y="783.4" font-size="23.5" fill="#111" stroke="#111" stroke-width="0.35" textLength="86" lengthAdjust="spacingAndGlyphs">net short</text>
<text x="903" y="783.6" font-size="23" font-weight="bold" fill="#111" stroke="#111" stroke-width="0.45" textLength="183.5" lengthAdjust="spacingAndGlyphs">Number of Traders</text>
<line x1="1141.5" y1="776" x2="1161.5" y2="776" stroke="#219ce2" stroke-width="3.2"/>
<text x="1172.5" y="783.4" font-size="23.5" fill="#111" stroke="#111" stroke-width="0.35" textLength="78.5" lengthAdjust="spacingAndGlyphs">net long</text>
<line x1="1371.5" y1="776" x2="1391.5" y2="776" stroke="#d0021b" stroke-width="3.2"/>
<text x="1402.5" y="783.4" font-size="23.5" fill="#111" stroke="#111" stroke-width="0.35" textLength="86" lengthAdjust="spacingAndGlyphs">net short</text>
<line x1="145" y1="806.8" x2="1645.3" y2="806.8" stroke="#a4a4a4" stroke-width="2" stroke-dasharray="4.3 3.7" stroke-dashoffset="4.5"/>
<line x1="145" y1="824.2" x2="1645.3" y2="824.2" stroke="#cbcbcb" stroke-width="2" stroke-dasharray="4.3 3.7" stroke-dashoffset="4.5"/>
<line x1="145" y1="858" x2="1645.3" y2="858" stroke="#cbcbcb" stroke-width="2" stroke-dasharray="4.3 3.7" stroke-dashoffset="4.5"/>
<line x1="145" y1="892" x2="1645.3" y2="892" stroke="#cbcbcb" stroke-width="2" stroke-dasharray="4.3 3.7" stroke-dashoffset="4.5"/>
<line x1="145" y1="926" x2="1645.3" y2="926" stroke="#cbcbcb" stroke-width="2" stroke-dasharray="4.3 3.7" stroke-dashoffset="4.5"/>
<line x1="145" y1="960" x2="1645.3" y2="960" stroke="#cbcbcb" stroke-width="2" stroke-dasharray="4.3 3.7" stroke-dashoffset="4.5"/>
<line x1="145" y1="977" x2="1645.3" y2="977" stroke="#cbcbcb" stroke-width="2" stroke-dasharray="4.3 3.7" stroke-dashoffset="4.5"/>
<line x1="145.3" y1="806.8" x2="145.3" y2="977" stroke="#b9b9b9" stroke-width="1.6" stroke-dasharray="4.2 3.85"/>
<line x1="372" y1="806.8" x2="372" y2="977" stroke="#b9b9b9" stroke-width="1.6" stroke-dasharray="4.2 3.85"/>
<line x1="623.4" y1="806.8" x2="623.4" y2="977" stroke="#b9b9b9" stroke-width="1.6" stroke-dasharray="4.2 3.85"/>
<line x1="883.1" y1="806.8" x2="883.1" y2="977" stroke="#b9b9b9" stroke-width="1.6" stroke-dasharray="4.2 3.85"/>
<line x1="1142.9" y1="806.8" x2="1142.9" y2="977" stroke="#b9b9b9" stroke-width="1.6" stroke-dasharray="4.2 3.85"/>
<line x1="1386" y1="806.8" x2="1386" y2="977" stroke="#b9b9b9" stroke-width="1.6" stroke-dasharray="4.2 3.85"/>
<line x1="1645.7" y1="806.8" x2="1645.7" y2="977" stroke="#cfcfcf" stroke-width="1.8"/>
<line x1="372" y1="975.8" x2="372" y2="987.8" stroke="#888888" stroke-width="2"/>
<line x1="623.4" y1="975.8" x2="623.4" y2="987.8" stroke="#888888" stroke-width="2"/>
<line x1="883.1" y1="975.8" x2="883.1" y2="987.8" stroke="#888888" stroke-width="2"/>
<line x1="1142.9" y1="975.8" x2="1142.9" y2="987.8" stroke="#888888" stroke-width="2"/>
<line x1="1386" y1="975.8" x2="1386" y2="987.8" stroke="#888888" stroke-width="2"/>
<line x1="1645.4" y1="975.8" x2="1645.4" y2="987.8" stroke="#888888" stroke-width="2"/>
<g clip-path="url(#cl)" fill="none" stroke-width="3.15" stroke-linejoin="round">
<polyline points="143.6,810.3 152.03,806.3 160.5,817 168.96,817.8 177.43,812.5 185.89,810.5 194.35,810.5 202.82,830.3 211.28,830.3 219.65,867 228.03,866.3 236.4,855.3 244.78,855 253.15,866.7 261.53,875.3 269.9,875 278.27,881.2 286.65,883.3 295.02,876.7 303.4,884.2 311.77,886.7 320.15,881.7 328.52,881.7 336.91,894.7 345.31,894.7 353.7,893.8 362.1,881.7 370.49,883.3 378.89,887.8 387.28,885.5 395.68,890 404.07,890 412.47,890 420.86,884.2 429.26,881.7 437.65,881.3 446.05,882.8 454.44,881.2 462.83,881.2 471.23,879.2 479.62,876.2 488.02,880 496.41,877.5 504.81,885 513.2,887.2 521.6,887.5 529.99,888.7 538.39,882.5 546.78,894.2 555.18,889.7 563.57,884.5 571.97,888 580.36,888 588.75,887.2 597.15,882.5 605.54,896.7 613.94,898.3 622.33,899.5 630.73,910.5 639.12,910.8 647.52,916.2 655.91,893.8 664.3,891.3 672.7,879.7 681.09,875 689.49,883.3 697.88,883.3 706.28,882.5 714.67,880.5 723.06,880.5 731.45,887.2 739.83,886.7 748.21,895.5 756.59,895.5 764.98,893 773.36,882.5 781.74,883.3 790.12,880.3 798.5,880.8 806.89,889.5 815.27,889.5 823.65,889.5 832.03,887 840.42,885.8 848.8,887.8 857.18,889.2 865.56,897.2 873.95,897.2 882.33,897.2 890.71,895.5 899.09,891.2 907.47,889.5 915.86,894.2 924.24,902.5 932.62,902.5 941,900.8 949.38,890.5 957.77,889.2 966.15,885.8 974.53,891.7 982.91,897.2 991.3,897.2 999.68,895.5 1008.06,887 1016.44,884.7 1024.83,863.7 1033.2,865.8 1041.58,880 1049.95,880 1058.33,879.5 1066.7,885.3 1075.08,888.8 1083.45,880.3 1091.83,887.2 1100.21,889.2 1108.58,889.2 1116.96,890.5 1125.33,891.7 1133.71,890.8 1142.08,896.7 1150.46,904.5 1158.84,894.5 1167.21,894.5 1175.59,892.2 1183.96,887.5 1192.34,896.2 1200.71,894.5 1209.09,895.8 1217.47,887.8 1225.84,887.8 1234.22,887 1242.59,884.7 1250.97,865.5 1259.34,865.5 1267.72,875.5 1276.1,890.5 1284.47,890.5 1292.85,890.3 1301.22,886.6 1309.6,894.8 1317.97,894.5 1326.35,890.5 1334.73,909.5 1343.1,909.2 1351.48,907 1359.85,898 1368.23,896.2 1376.6,900.3 1384.98,910.8 1393.36,922.8 1401.74,922.8 1410.12,920.8 1418.5,915 1426.88,912 1435.26,919.2 1443.64,916.3 1452.02,923.7 1460.4,923.7 1468.78,919.2 1477.16,913.8 1485.54,919.2 1493.92,914.5 1502.3,912.5 1510.68,912.8 1519.06,913 1527.44,910.5 1535.82,913.8 1544.2,914.7 1552.56,917.5 1560.93,912.2 1569.3,913.3 1577.67,913.3 1586.04,910.8 1594.4,907 1602.77,906.25 1611.14,910.75 1619.51,918.75 1627.88,918.25 1636.25,918 1644.62,918" stroke="#219ce2"/>
<polyline points="143.6,966.2 152.03,965.5 160.5,967.5 168.96,969.2 177.43,963.8 185.89,962.2 194.35,962 202.82,955.3 211.28,955.3 219.65,942.5 228.03,941.7 236.4,942.5 244.78,941.7 253.15,935 261.53,927.5 269.9,927.5 278.27,927.5 286.65,926.7 295.02,922.5 303.4,923.3 311.77,923.8 320.15,925 328.52,925 336.91,922.8 345.31,922.8 353.7,918.7 362.1,918.8 370.49,922.5 378.89,924.2 387.28,919.5 395.68,920.3 404.07,920.3 412.47,919.2 420.86,917.5 429.26,924.5 437.65,919.7 446.05,919.2 454.44,933.3 462.83,933.3 471.23,936.3 479.62,928.7 488.02,931.3 496.41,933.7 504.81,925 513.2,926.7 521.6,926.7 529.99,927.5 538.39,928 546.78,908.7 555.18,915.8 563.57,912.8 571.97,908.8 580.36,908.8 588.75,908.3 597.15,907.8 605.54,896.2 613.94,888.3 622.33,890.5 630.73,888.7 639.12,888.7 647.52,900.8 655.91,918 664.3,915.3 672.7,915 681.09,917.2 689.49,927.5 697.88,927.5 706.28,926.7 714.67,928.3 723.06,930 731.45,934.5 739.83,928.3 748.21,930.8 756.59,930.8 764.98,930.8 773.36,928.3 781.74,923.8 790.12,928.3 798.5,925.5 806.89,923.8 815.27,923.7 823.65,923.7 832.03,923.7 840.42,917.8 848.8,914.5 857.18,916.3 865.56,916.3 873.95,916.3 882.33,916.3 890.71,915.3 899.09,915.3 907.47,926.7 915.86,917.2 924.24,926.2 932.62,926.2 941,924.5 949.38,925.5 957.77,918.3 966.15,924.2 974.53,924.2 982.91,919.7 991.3,919.5 999.68,918.3 1008.06,911.7 1016.44,927.2 1024.83,933.3 1033.2,927.5 1041.58,927.5 1049.95,927.5 1058.33,926.3 1066.7,922.8 1075.08,923.7 1083.45,933 1091.83,930 1100.21,931.7 1108.58,931.7 1116.96,931.3 1125.33,928.3 1133.71,929.7 1142.08,930.3 1150.46,913.7 1158.84,938 1167.21,938 1175.59,937 1183.96,935 1192.34,924.7 1200.71,929.5 1209.09,931.7 1217.47,941.3 1225.84,941.7 1234.22,940.5 1242.59,934.2 1250.97,946.2 1259.34,944.5 1267.72,938.3 1276.1,939.2 1284.47,939.2 1292.85,939.2 1301.22,932.9 1309.6,924.6 1317.97,927.8 1326.35,934.2 1334.73,928.3 1343.1,928.3 1351.48,928.7 1359.85,932 1368.23,930.8 1376.6,926.3 1384.98,917.2 1393.36,907.5 1401.74,907.5 1410.12,905 1418.5,897.5 1426.88,893 1435.26,885 1443.64,886.3 1452.02,892.5 1460.4,892.5 1468.78,892 1477.16,882 1485.54,887.8 1493.92,885.3 1502.3,888.8 1510.68,895.3 1519.06,895.3 1527.44,895 1535.82,884.2 1544.2,885.8 1552.56,900.8 1560.93,905 1569.3,910.5 1577.67,910.5 1586.04,910 1594.4,903.2 1602.77,905 1611.14,897 1619.51,893.75 1627.88,893.25 1636.25,893 1644.62,893" stroke="#d0021b"/>
</g>
<line x1="1654" y1="805.8" x2="1654" y2="978" stroke="#7c7c7c" stroke-width="2"/>
<line x1="1654" y1="806.8" x2="1665.3" y2="806.8" stroke="#7c7c7c" stroke-width="2"/>
<line x1="1654" y1="977" x2="1665.3" y2="977" stroke="#7c7c7c" stroke-width="2"/>
<line x1="1654" y1="824.2" x2="1665.3" y2="824.2" stroke="#7c7c7c" stroke-width="2"/>
<text x="1672.5" y="832.1" font-size="24" fill="#28364e" stroke="#28364e" stroke-width="0.3" textLength="45" lengthAdjust="spacingAndGlyphs">5000</text>
<line x1="1654" y1="858" x2="1665.3" y2="858" stroke="#7c7c7c" stroke-width="2"/>
<text x="1672.5" y="865.9" font-size="24" fill="#28364e" stroke="#28364e" stroke-width="0.3" textLength="45" lengthAdjust="spacingAndGlyphs">4000</text>
<line x1="1654" y1="892" x2="1665.3" y2="892" stroke="#7c7c7c" stroke-width="2"/>
<text x="1672.5" y="899.9" font-size="24" fill="#28364e" stroke="#28364e" stroke-width="0.3" textLength="45" lengthAdjust="spacingAndGlyphs">3000</text>
<line x1="1654" y1="926" x2="1665.3" y2="926" stroke="#7c7c7c" stroke-width="2"/>
<text x="1672.5" y="933.9" font-size="24" fill="#28364e" stroke="#28364e" stroke-width="0.3" textLength="45" lengthAdjust="spacingAndGlyphs">2000</text>
<line x1="1654" y1="960" x2="1665.3" y2="960" stroke="#7c7c7c" stroke-width="2"/>
<text x="1672.5" y="967.9" font-size="24" fill="#28364e" stroke="#28364e" stroke-width="0.3" textLength="45" lengthAdjust="spacingAndGlyphs">1000</text>
<text transform="translate(379.1,1115.1) rotate(-90)" font-size="24.2" fill="#28364e" stroke="#28364e" stroke-width="0.3" textLength="115.5" lengthAdjust="spacingAndGlyphs">2023-Nov-01</text>
<text transform="translate(630.5,1117.6) rotate(-90)" font-size="24.2" fill="#28364e" stroke="#28364e" stroke-width="0.3" textLength="118" lengthAdjust="spacingAndGlyphs">2023-Dec-01</text>
<text transform="translate(890.2,1115.3) rotate(-90)" font-size="24.2" fill="#28364e" stroke="#28364e" stroke-width="0.3" textLength="115.7" lengthAdjust="spacingAndGlyphs">2024-Jan-01</text>
<text transform="translate(1150,1114.6) rotate(-90)" font-size="24.2" fill="#28364e" stroke="#28364e" stroke-width="0.3" textLength="115" lengthAdjust="spacingAndGlyphs">2024-Feb-01</text>
<text transform="translate(1393.1,1116.9) rotate(-90)" font-size="24.2" fill="#28364e" stroke="#28364e" stroke-width="0.3" textLength="117.3" lengthAdjust="spacingAndGlyphs">2024-Mar-01</text>
<text transform="translate(1652.5,1113.1) rotate(-90)" font-size="24.2" fill="#28364e" stroke="#28364e" stroke-width="0.3" textLength="113.5" lengthAdjust="spacingAndGlyphs">2024-Apr-01</text>
<g id="logo">
<g fill="none" stroke="#4b5569" stroke-width="5.8">
<path d="M1525.9,59.6 H1535 A11.65,11.65 0 0 1 1535,82.9 H1525.9 Z"/>
<path d="M1559.6,85.8 V68.5 A9.35,9.35 0 0 1 1578.3,68.5 V85.8 M1559.6,73.6 H1578.3"/>
<path d="M1610.9,56.7 V82.9 H1626.7"/>
<path d="M1634.6,56.7 V64.3 A8.75,8.75 0 0 0 1652.1,64.3 V56.7 M1643.3,73 V85.8"/>
</g>
<rect x="1591.3" y="56.7" width="6.3" height="29.1" fill="#4b5569"/>
<rect x="1593.5" y="50.8" width="2" height="40.6" fill="#4b5569"/>
<path d="M1664.2,56.7 H1690 V63.8 H1671.8 V68.7 H1687.5 V75.4 H1671.8 V85.8 H1664.2 Z" fill="#ff7200"/>
<path d="M1695.3,56.7 H1704.6 L1711.3,66 L1718,56.7 H1727.3 L1716,71.1 L1727.8,85.8 H1718.4 L1711.3,76.4 L1704.2,85.8 H1694.8 L1706.6,71.1 Z" fill="#ff7200"/>
<text x="1590" y="112.5" font-size="19" fill="#4b5569" textLength="102.5" lengthAdjust="spacingAndGlyphs">provided by</text>
<rect x="1702.9" y="96" width="4.05" height="21.1" fill="#e01418"/>
<path d="M1726.3,100.5 A9.35,9.35 0 1 0 1726.5,112.6 V106.9 H1719.9" fill="none" stroke="#e01418" stroke-width="3.9"/>
</g>

<g id="wm">
<g fill="none" stroke="#737d88" stroke-width="2.3" stroke-linecap="butt" stroke-linejoin="round" opacity="0.78" filter="url(#bl)">
<polyline points="1564.1,1122.4 1575.8,1122.4"/>
<polyline points="1576.7,1108.6 1574.8,1121.8"/>
<polyline points="1559.8,1141.0 1570.5,1141.0"/>
<polyline points="1571.7,1128.3 1570.2,1140.7"/>
<polyline points="1552.8,1162.0 1561.2,1162.0"/>
<polyline points="1572.0,1141.7 1566.1,1154.1 1561.4,1161.7"/>
<polyline points="1576.6,1117.7 1589.8,1117.1 1616.6,1116.6"/>
<polyline points="1618.2,1110.6 1612.3,1135.4 1606.9,1157.2 1604.6,1160.7"/>
<polyline points="1569.9,1162.0 1603.0,1162.0"/>
<polyline points="1585.5,1126.5 1603.2,1126.5"/>
<polyline points="1585.9,1126.5 1583.6,1135.4"/>
<polyline points="1597.6,1128.4 1600.7,1135.4"/>
<polyline points="1580.8,1143.6 1598.5,1143.6"/>
<polyline points="1581.2,1143.6 1578.5,1153.3"/>
<polyline points="1593.7,1145.6 1596.0,1153.3"/>
<polyline points="1625.9,1115.8 1664.4,1115.8"/>
<polyline points="1633.3,1118.3 1630.6,1128.8"/>
<polyline points="1620.9,1137.9 1660.6,1137.9"/>
<polyline points="1616.6,1152.9 1655.1,1152.9"/>
<polyline points="1657.8,1145.6 1655.3,1152.9"/>
<polyline points="1676.7,1109.4 1671.4,1132.3 1665.6,1158.0 1663.7,1161.7"/>
<polyline points="1640.7,1162.0 1663.7,1162.0"/>
<polyline points="1676.7,1109.4 1670.5,1128.4"/>
<polyline points="1689.6,1117.7 1700.8,1117.7"/>
<polyline points="1688.9,1118.2 1682.7,1144.8"/>
<polyline points="1676.3,1148.7 1682.7,1148.7"/>
<polyline points="1701.0,1118.3 1692.8,1144.8 1697.2,1159.6"/>
<polyline points="1672.4,1162.0 1679.4,1162.0 1685.8,1154.9"/>
<polyline points="1709.8,1120.8 1724.7,1120.8"/>
<polyline points="1711.5,1109.8 1703.7,1144.8 1697.5,1159.6"/>
<polyline points="1689.6,1162.0 1696.6,1162.0"/>
<polyline points="1724.7,1121.4 1717.6,1137.0 1709.9,1152.6 1706.8,1159.6"/>
<polyline points="1737.9,1110.6 1735.6,1120.7 1730.0,1141.7 1724.7,1159.6"/>
<polyline points="1711.3,1162.0 1722.6,1162.0"/>
<polyline points="1665.8,1138.6 1662.3,1157.2 1660.0,1161.9"/>
<polyline points="1763.6,1109.8 1751.2,1123.2"/>
<polyline points="1764.4,1123.2 1748.8,1140.3"/>
<polyline points="1740.9,1131.7 1746.5,1131.7"/>
<polyline points="1737.8,1148.8 1756.6,1148.8"/>
<polyline points="1734.7,1162.0 1753.5,1162.0"/>
<polyline points="1768.9,1115.8 1783.8,1115.8"/>
<polyline points="1798.6,1109.8 1786.2,1124.7 1792.4,1127.8"/>
<polyline points="1764.2,1135.6 1776.7,1135.6 1792.4,1135.4"/>
<polyline points="1761.1,1144.9 1769.0,1144.9"/>
<polyline points="1791.6,1138.6 1789.3,1144.9"/>
<polyline points="1778.4,1146.3 1776.7,1152.7"/>
<polyline points="1754.3,1162.0 1785.4,1162.0 1787.7,1154.9"/>
</g>
<g transform="translate(1565,1195) scale(1.14,1)"><text x="0" y="0" font-size="31" font-weight="bold" font-style="italic" fill="#7fc4ee" stroke="#7fc4ee" stroke-width="1.1" stroke-linejoin="round" filter="url(#sh2)" textLength="195.6" lengthAdjust="spacing">zzrt01.cn</text></g>
</g>
</svg></body></html>
